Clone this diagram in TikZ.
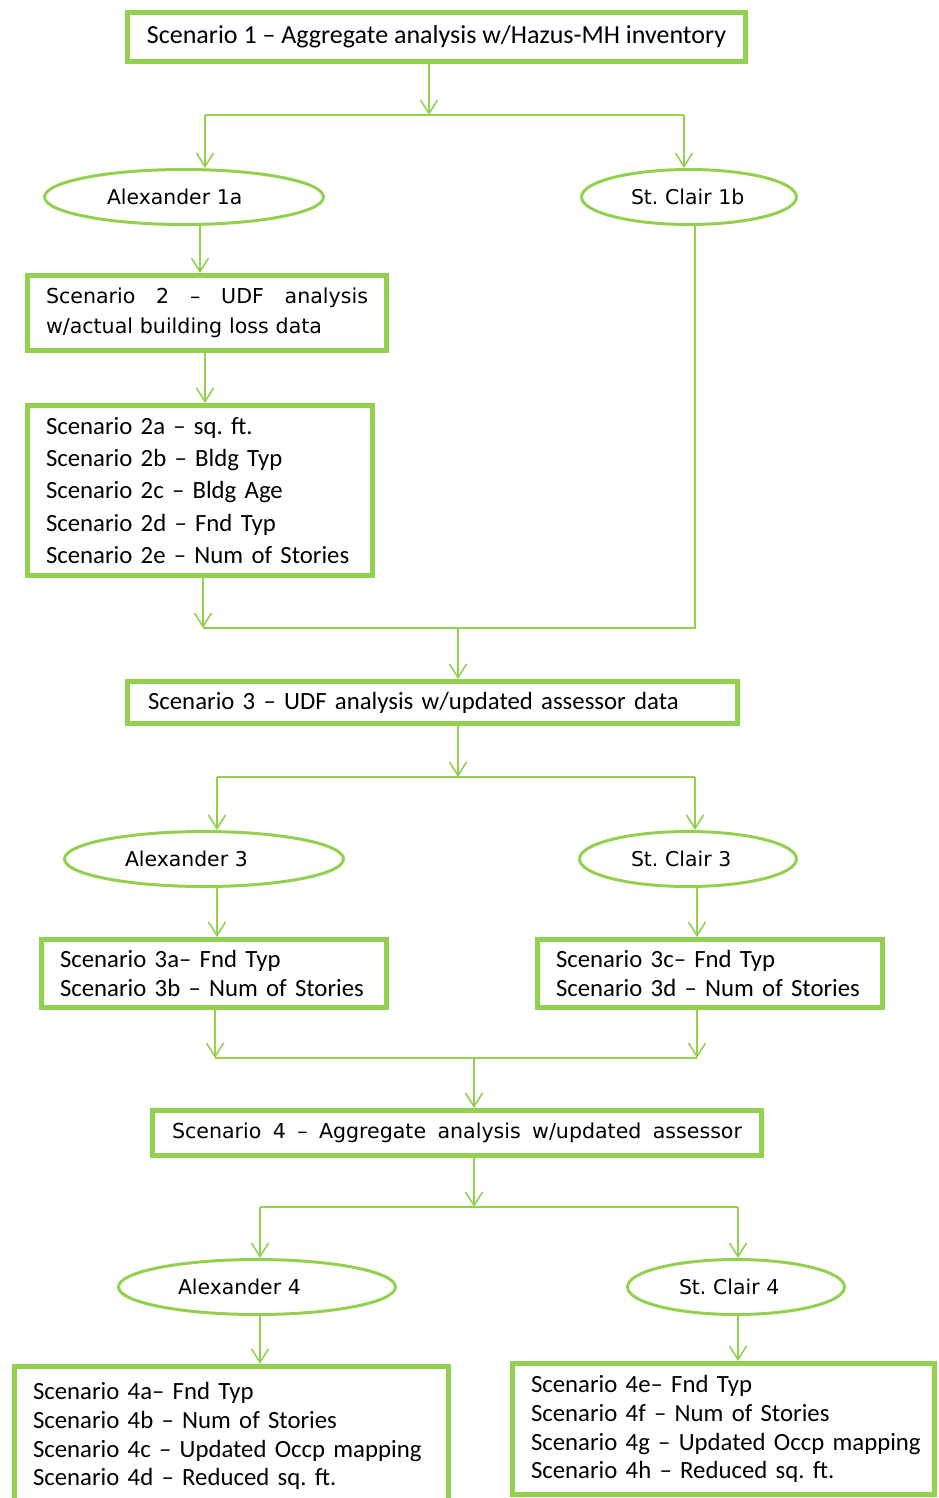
\documentclass[tikz,border=0pt]{standalone}
\usepackage{fontspec}
\setmainfont{Carlito}
\newfontfamily\tahoma{DejaVu Sans}
\usetikzlibrary{shapes.geometric, arrows.meta}
\definecolor{leafgreen}{HTML}{92D050}

\begin{document}
\frenchspacing
\hyphenpenalty=10000
\begin{tikzpicture}[
    x=0.02cm, y=-0.02cm,% one unit is one pixel of the sketch
    box/.style={rectangle, draw=leafgreen, line width=2.8pt, fill=white,
        inner xsep=0.37cm, inner ysep=0pt, align=left,
        font=\fontsize{14.1}{18.3}\selectfont},
    widebox/.style={box, inner xsep=0.41cm},
    oval/.style={ellipse, draw=leafgreen, line width=1.7pt, fill=white,
        inner sep=0pt, align=left, minimum height=1.1cm,
        font=\tahoma\fontsize{11.6}{14}\selectfont},
    link/.style={draw=leafgreen, line width=0.9pt},
    arr/.style={link, -{Straight Barb[length=0.27cm, width=0.34cm]}}
    ]

    \useasboundingbox[fill=white] (0,0) rectangle (938,1498);

    % top level
    \node[box, align=center, minimum width=12.36cm, minimum height=0.98cm,
        font=\fontsize{14.8}{17}\selectfont]
        (s1) at (436.5,37) {Scenario 1 – Aggregate analysis w/Hazus-MH inventory};
    \node[oval, minimum width=5.58cm, text width=3.08cm] (alexA) at (184,197) {\mbox{Alexander 1a}};
    \node[oval, minimum width=4.3cm, text width=2.32cm] (stclairB) at (689,197) {\mbox{St. Clair 1b}};
    \node[box, minimum width=7.18cm, minimum height=1.5cm, text width=6.44cm,
        font=\tahoma\fontsize{11.7}{17}\selectfont] (s2) at (207,313)
        {\makebox[6.44cm]{Scenario\hfill 2\hfill –\hfill UDF\hfill analysis}\\w/actual building loss data};
    \node[box, minimum width=6.9cm, minimum height=3.4cm, text width=6.16cm] (s2list) at (200,490.5)
        {Scenario 2a – sq. ft.\\Scenario 2b – Bldg Typ\\Scenario 2c – Bldg Age\\
         Scenario 2d – Fnd Typ\\Scenario 2e – Num of Stories};

    % second level
    \node[widebox, minimum width=12.2cm, minimum height=0.84cm, text width=11.38cm]
        (s3) at (432.5,702.5) {Scenario 3 – UDF analysis w/updated assessor data};
    \node[oval, minimum width=5.58cm, text width=3.16cm] (alex3) at (204,859) {\mbox{Alexander 3}};
    \node[oval, minimum width=4.34cm, text width=2.28cm] (stclair3) at (688,859) {\mbox{St. Clair 3}};
    \node[box, minimum width=6.9cm, minimum height=1.36cm, text width=6.16cm,
        font=\fontsize{14.1}{17}\selectfont] (s3list) at (214,973.5)
        {Scenario 3a– Fnd Typ\\Scenario 3b – Num of Stories};
    \node[box, minimum width=6.9cm, minimum height=1.36cm, text width=6.16cm,
        font=\fontsize{14.1}{17}\selectfont] (s3list2) at (710,973.5)
        {Scenario 3c– Fnd Typ\\Scenario 3d – Num of Stories};

    % third level
    \node[box, inner xsep=0.39cm, minimum width=12.18cm, minimum height=0.9cm, text width=11.4cm,
        font=\tahoma\fontsize{11.7}{14}\selectfont] (s4) at (457,1133)
        {\makebox[11.4cm]{Scenario\hfill 4\hfill –\hfill Aggregate\hfill analysis\hfill w/updated\hfill assessor}};
    \node[oval, minimum width=5.54cm, text width=3.16cm] (alex4) at (257,1287) {\mbox{Alexander 4}};
    \node[oval, minimum width=4.34cm, text width=2.28cm] (stclair4) at (736,1287) {\mbox{St. Clair 4}};
    \node[box, minimum width=8.68cm, minimum height=2.79cm, text width=7.94cm,
        font=\fontsize{14.1}{16.4}\selectfont] (s4list) at (231.5,1436)
        {Scenario 4a– Fnd Typ\\Scenario 4b – Num of Stories\\
         \mbox{Scenario 4c – Updated Occp mapping}\\Scenario 4d – Reduced sq. ft.};
    \node[box, minimum width=8.44cm, minimum height=2.62cm, text width=7.7cm,
        font=\fontsize{14.1}{16.4}\selectfont] (s4list2) at (723.5,1429)
        {Scenario 4e– Fnd Typ\\Scenario 4f – Num of Stories\\
         \mbox{Scenario 4g – Updated Occp mapping}\\Scenario 4h – Reduced sq. ft.};

    % junctions
    \coordinate (j1) at (429,115);
    \coordinate (j1l) at (205,115);
    \coordinate (j1r) at (684,115);
    \coordinate (c2) at (200,0);
    \coordinate (c2b) at (205,0);
    \coordinate (j2l) at (203,628);
    \coordinate (j2r) at (695,628);
    \coordinate (j2) at (458,628);
    \coordinate (j3) at (458,777);
    \coordinate (j3l) at (217,777);
    \coordinate (j3r) at (695,777);
    \coordinate (j4l) at (215,1058);
    \coordinate (j4r) at (697,1058);
    \coordinate (j4) at (474,1058);
    \coordinate (j5) at (474,1207);
    \coordinate (j5l) at (260,1207);
    \coordinate (j5r) at (738,1207);

    \draw[arr] (s1.south -| j1) -- (j1);
    \draw[link] (j1l) -- (j1r);
    \draw[arr] (j1l) -- (alexA.north -| j1l);
    \draw[arr] (j1r) -- (stclairB.north -| j1r);
    \draw[arr] (alexA.south -| c2) -- (s2.north -| c2);
    \draw[arr] (s2.south -| c2b) -- (s2list.north -| c2b);
    \draw[arr] (s2list.south -| j2l) -- (j2l);
    \draw[link] (stclairB.south -| j2r) -- (j2r) -- (j2l);
    \draw[arr] (j2) -- (s3.north -| j2);

    \draw[arr] (s3.south -| j3) -- (j3);
    \draw[link] (j3l) -- (j3r);
    \draw[arr] (j3l) -- (alex3.north -| j3l);
    \draw[arr] (j3r) -- (stclair3.north -| j3r);
    \draw[arr] (alex3.south -| j3l) -- (s3list.north -| j3l);
    \draw[arr] (stclair3.south -| j4r) -- (s3list2.north -| j4r);
    \draw[arr] (s3list.south -| j4l) -- (j4l);
    \draw[arr] (s3list2.south -| j4r) -- (j4r);
    \draw[link] (j4l) -- (j4r);
    \draw[arr] (j4) -- (s4.north -| j4);

    \draw[arr] (s4.south -| j5) -- (j5);
    \draw[link] (j5l) -- (j5r);
    \draw[arr] (j5l) -- (alex4.north -| j5l);
    \draw[arr] (j5r) -- (stclair4.north -| j5r);
    \draw[arr] (alex4.south -| j5l) -- (s4list.north -| j5l);
    \draw[arr] (stclair4.south -| j5r) -- (s4list2.north -| j5r);

\end{tikzpicture}
\end{document}
